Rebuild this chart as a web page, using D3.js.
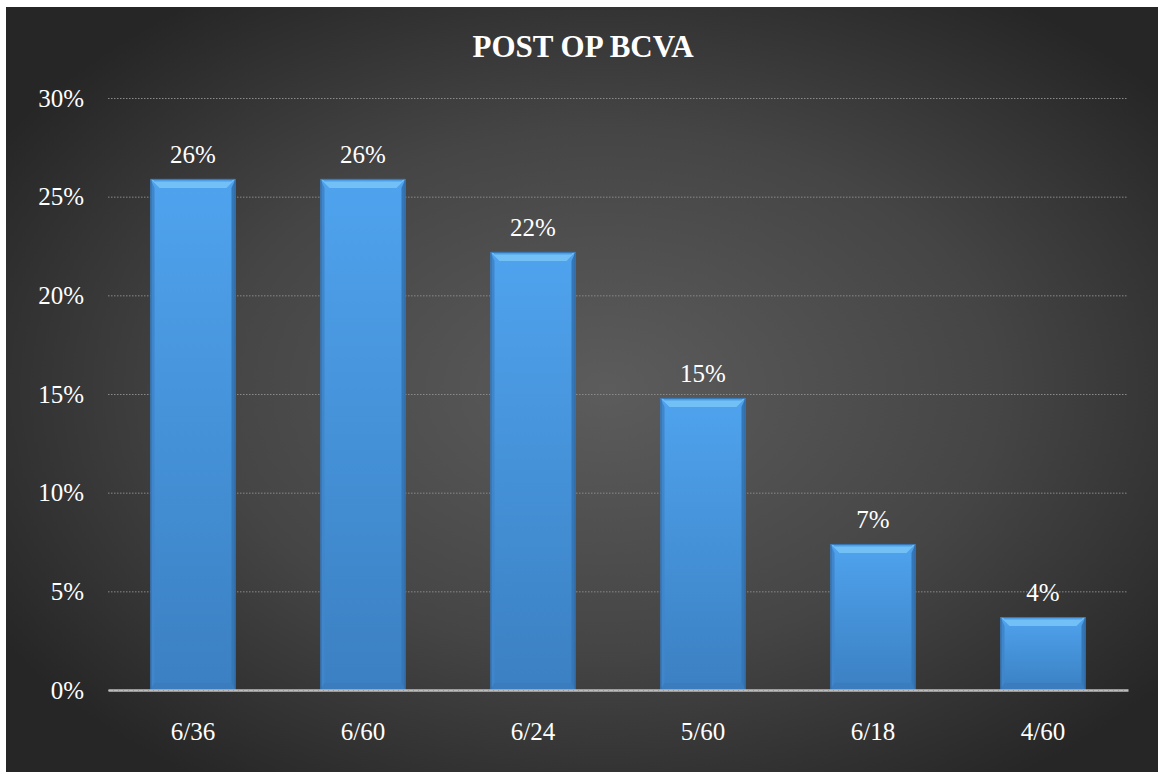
<!DOCTYPE html>
<html>
<head>
<meta charset="utf-8">
<script src="https://cdn.jsdelivr.net/npm/d3@7"></script>
<style>
  html, body { margin: 0; padding: 0; background: #ffffff; }
  svg { display: block; }
</style>
</head>
<body>
<svg id="chart" width="1160" height="772"></svg>
<script>
const categories = ["6/36", "6/60", "6/24", "5/60", "6/18", "4/60"];
const values = [25.9, 25.9, 22.2, 14.8, 7.4, 3.7];
const valueLabels = ["26%", "26%", "22%", "15%", "7%", "4%"];
const yTicks = [0, 5, 10, 15, 20, 25, 30];
const title = "POST OP BCVA";

const SERIF = "'Liberation Serif', 'Times New Roman', Tinos, serif";
const frame = {x: 6, y: 7, w: 1152, h: 765};
const m = {left: 108, right: 1128, top: 98, bottom: 690};
const svg = d3.select("#chart");
const defs = svg.append("defs");

const bg = defs.append("radialGradient").attr("id", "bg")
  .attr("cx", "52%").attr("cy", "50%").attr("r", "62%");
bg.append("stop").attr("offset", "0%").attr("stop-color", "#5c5c5c");
bg.append("stop").attr("offset", "55%").attr("stop-color", "#454545");
bg.append("stop").attr("offset", "100%").attr("stop-color", "#262626");

const barG = defs.append("linearGradient").attr("id", "barFill")
  .attr("x1", 0).attr("y1", 0).attr("x2", 0).attr("y2", 1);
barG.append("stop").attr("offset", "0%").attr("stop-color", "#4fa3ee");
barG.append("stop").attr("offset", "100%").attr("stop-color", "#3b80c2");

svg.append("rect").attr("x", frame.x).attr("y", frame.y)
  .attr("width", frame.w).attr("height", frame.h).attr("fill", "url(#bg)");

const x = d3.scaleBand().domain(categories).range([m.left, m.right])
  .paddingInner(0.5).paddingOuter(0.25);
const y = d3.scaleLinear().domain([0, 30]).range([m.bottom, m.top]);

// gridlines
svg.append("g").selectAll("line").data(yTicks.filter(t => t > 0)).join("line")
  .attr("x1", m.left).attr("x2", m.right)
  .attr("y1", d => y(d) + 0.5).attr("y2", d => y(d) + 0.5)
  .attr("stroke", "#8a8a8a").attr("stroke-width", 1).attr("stroke-dasharray", "1.5,1.5");

// y axis
const yAxis = d3.axisLeft(y).tickValues(yTicks).tickFormat(d => d + "%").tickSize(0).tickPadding(24);
const gy = svg.append("g").attr("transform", `translate(${m.left},0)`).call(yAxis)
  .attr("font-family", SERIF).attr("font-size", 25);
gy.select(".domain").remove();
gy.selectAll("text").attr("fill", "#ffffff").attr("dy", "0.33em").style("font-family", SERIF);

// bars with bevel
const bars = svg.append("g").selectAll("g").data(categories).join("g");
bars.each(function(c, i) {
  const g = d3.select(this);
  const x0 = x(c), bw = x.bandwidth();
  const y0 = y(values[i]), y1 = y(0);
  const bh = y1 - y0;
  const bt = Math.min(9, bh / 3), bs = 4, bb = 7;
  g.append("rect").attr("x", x0).attr("y", y0).attr("width", bw).attr("height", bh)
    .attr("fill", "url(#barFill)");
  g.append("polygon").attr("points", [[x0, y0], [x0 + bw, y0], [x0 + bw - bt, y0 + bt], [x0 + bt, y0 + bt]].join(" "))
    .attr("fill", "#72c0f6");
  g.append("polygon").attr("points", [[x0 + 2, y0], [x0 + bw - 2, y0], [x0 + bw - 4, y0 + 2.5], [x0 + 4, y0 + 2.5]].join(" "))
    .attr("fill", "#4f9fe6");
  g.append("polygon").attr("points", [[x0, y0], [x0 + bs, y0 + bt], [x0 + bs, y1 - bb], [x0, y1]].join(" "))
    .attr("fill", "#3f86cc");
  g.append("polygon").attr("points", [[x0 + bw, y0], [x0 + bw - bs, y0 + bt], [x0 + bw - bs, y1 - bb], [x0 + bw, y1]].join(" "))
    .attr("fill", "#3576b6");
  g.append("polygon").attr("points", [[x0, y1], [x0 + bs, y1 - bb], [x0 + bw - bs, y1 - bb], [x0 + bw, y1]].join(" "))
    .attr("fill", "#3a7cbd");
  g.append("rect").attr("x", x0 + 0.5).attr("y", y0 + 0.5).attr("width", bw - 1).attr("height", bh - 1)
    .attr("fill", "none").attr("stroke", "#2d659e").attr("stroke-width", 1).attr("stroke-opacity", 0.7);
});

// value labels
svg.append("g").selectAll("text").data(categories).join("text")
  .attr("x", c => x(c) + x.bandwidth() / 2)
  .attr("y", (c, i) => y(values[i]) - 16)
  .attr("text-anchor", "middle").attr("fill", "#ffffff")
  .attr("font-size", 25).style("font-family", SERIF)
  .text((c, i) => valueLabels[i]);

// x axis
const xAxis = d3.axisBottom(x).tickSize(0).tickPadding(32);
const gx = svg.append("g").attr("transform", `translate(0,${m.bottom})`).call(xAxis)
  .attr("font-family", SERIF).attr("font-size", 25);
gx.select(".domain").attr("stroke", "#bdbdbd").attr("stroke-width", 2.5);
gx.append("line").attr("x1", m.left).attr("x2", m.right).attr("y1", 0.5).attr("y2", 0.5)
  .attr("stroke", "#9a9a9a").attr("stroke-width", 1).attr("stroke-dasharray", "1,4");
gx.selectAll("text").attr("fill", "#ffffff").style("font-family", SERIF);

// title
svg.append("text").attr("x", 583).attr("y", 57).attr("text-anchor", "middle")
  .attr("fill", "#ffffff").style("font-family", SERIF)
  .attr("font-size", 31).attr("font-weight", "bold").text(title);
</script>
</body>
</html>
